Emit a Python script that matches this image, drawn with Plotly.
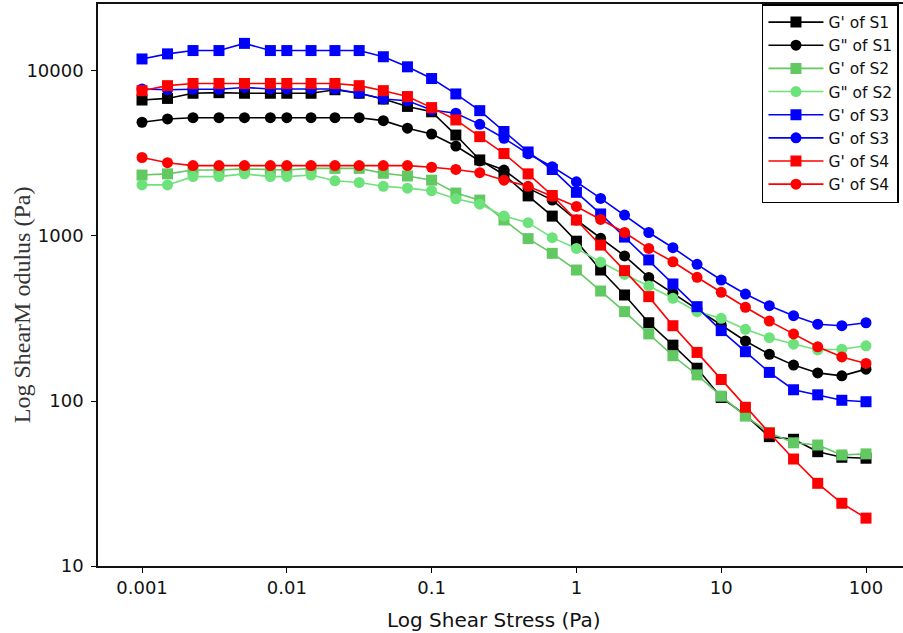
import plotly.graph_objects as go

# Shear stress (Pa)
stress = [0.001, 0.0015, 0.00225, 0.0034, 0.0051, 0.0077,
          0.01, 0.0147, 0.0215, 0.0316, 0.0464, 0.0681,
          0.1, 0.147, 0.215, 0.316, 0.464, 0.681,
          1.0, 1.47, 2.15, 3.16, 4.64, 6.81,
          10, 14.7, 21.5, 31.6, 46.4, 68.1, 100]

s1_gp = [6670, 6820, 7330, 7390, 7330, 7330, 7330, 7330, 7700, 7330, 6760, 6100,
         5660, 4090, 2890, 2350, 1750, 1320, 930, 622, 439, 298, 218, 158,
         105, 82, 60.8, 58.6, 49.3, 45.6, 45]
s1_gpp = [4890, 5120, 5210, 5210, 5210, 5210, 5210, 5210, 5210, 5210, 5000, 4500,
          4150, 3510, 2850, 2510, 1950, 1650, 1250, 968, 757, 561, 450, 361,
          289, 231, 192, 165, 148, 142, 156]
s2_gp = [2340, 2380, 2510, 2510, 2550, 2510, 2510, 2570, 2570, 2570, 2400, 2310,
         2180, 1820, 1650, 1250, 964, 785, 622, 464, 348, 255, 188, 144,
         107, 81, 64.3, 55.8, 54.1, 47.1, 47.8]
s2_gpp = [2040, 2040, 2290, 2290, 2380, 2290, 2290, 2340, 2160, 2110, 2000, 1950,
          1880, 1680, 1560, 1320, 1205, 977, 841, 695, 585, 498, 419, 348,
          317, 272, 242, 221, 204, 206, 216]
s3_gp = [11830, 12700, 13300, 13300, 14700, 13300, 13300, 13300, 13300, 13300, 12200, 10600,
         9000, 7260, 5750, 4300, 3230, 2530, 1840, 1360, 985, 716, 512, 373,
         267, 199, 149, 117, 109, 101, 99]
s3_gpp = [7780, 7700, 7750, 7750, 7950, 7780, 7780, 7780, 7780, 7330, 6760, 6600,
          5800, 5550, 4750, 3910, 3150, 2630, 2130, 1690, 1340, 1050, 849, 673,
          541, 445, 378, 329, 292, 286, 298]
s4_gp = [7600, 8150, 8400, 8400, 8400, 8400, 8400, 8400, 8400, 8150, 7600, 7000,
         6000, 5050, 4000, 3160, 2380, 1760, 1250, 881, 617, 429, 286, 197,
         135, 91.6, 64, 44.5, 31.7, 24, 19.5]
s4_gpp = [2990, 2780, 2670, 2670, 2670, 2670, 2670, 2670, 2670, 2670, 2670, 2670,
          2610, 2530, 2420, 2180, 2000, 1740, 1510, 1260, 1050, 841, 698, 562,
          456, 370, 305, 255, 213, 185, 169]

names = ["G' of S1", 'G" of S1', "G' of S2", 'G" of S2',
         "G' of S3", "G' of S3", "G' of S4", "G' of S4"]
series = [s1_gp, s1_gpp, s2_gp, s2_gpp, s3_gp, s3_gpp, s4_gp, s4_gpp]
colors = ["#000000", "#000000", "#62c862", "#6ee27a",
          "#0000ff", "#0000ff", "#ff0000", "#ff0000"]
symbols = ["square", "circle"] * 4

x_ticks = [0.001, 0.01, 0.1, 1, 10, 100]
x_ticktext = ["0.001", "0.01", "0.1", "1", "10", "100"]
y_ticks = [10, 100, 1000, 10000]
y_ticktext = ["10", "100", "1000", "10000"]

fig = go.Figure()
for name, ys, c, sym in zip(names, series, colors, symbols):
    fig.add_trace(go.Scatter(
        x=stress, y=ys, name=name, mode="lines+markers",
        line=dict(color=c, width=1.6),
        marker=dict(symbol=sym, size=11, color=c, line=dict(width=0)),
    ))

font_main = "DejaVu Sans"
fig.update_layout(
    width=903, height=633,
    margin=dict(l=98, r=0, t=4, b=67),
    paper_bgcolor="white", plot_bgcolor="white",
    showlegend=True,
    legend=dict(x=0.8248, y=1, xanchor="left", yanchor="top",
                bgcolor="white", bordercolor="#000000", borderwidth=1.5,
                font=dict(family=font_main, size=15.5, color="#111111"),
                itemwidth=55, tracegroupgap=0),
    xaxis=dict(type="log", range=[-3.304, 2.2555],
               tickvals=x_ticks, ticktext=x_ticktext,
               ticks="outside", ticklen=5, tickwidth=1.3, tickcolor="#000",
               showline=True, linecolor="#111", linewidth=1.5, mirror=True,
               showgrid=False, zeroline=False,
               tickfont=dict(family=font_main, size=18, color="#111")),
    yaxis=dict(type="log", range=[1, 4.406],
               tickvals=y_ticks, ticktext=y_ticktext,
               ticks="outside", ticklen=5, tickwidth=1.3, tickcolor="#000",
               showline=True, linecolor="#111", linewidth=1.5, mirror=False,
               showgrid=False, zeroline=False, ticklabelstandoff=4,
               tickfont=dict(family=font_main, size=18, color="#111")),
    annotations=[
        dict(text="Log Shear Stress (Pa)", xref="paper", yref="paper",
             x=0.4907, y=-0.0961, xanchor="center", yanchor="middle",
             showarrow=False,
             font=dict(family=font_main, size=20, color="#111")),
        dict(text="Log ShearM odulus (Pa)", xref="paper", yref="paper",
             x=0, xshift=-76, y=0.464, xanchor="center", yanchor="middle",
             textangle=-90, showarrow=False,
             font=dict(family="Liberation Serif", size=24, color="#333")),
    ],
)

fig.write_html("out.html")
